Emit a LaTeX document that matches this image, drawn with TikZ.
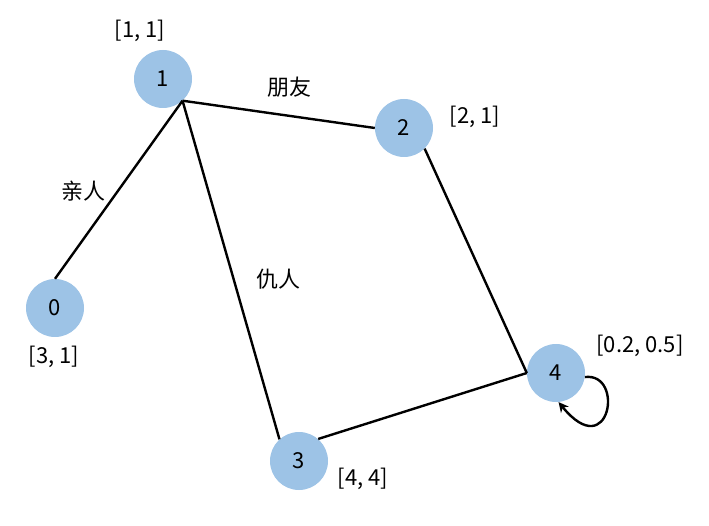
\documentclass[tikz,border=0pt]{standalone}
\usepackage{fontspec}
\setmainfont{Noto Sans CJK SC}
\usetikzlibrary{arrows.meta}
\definecolor{nodeblue}{HTML}{9DC3E6}
\begin{document}
\begin{tikzpicture}[x=1pt,y=-1pt,
  vert/.style={circle,fill=nodeblue,minimum size=58pt,inner sep=0pt,font=\fontsize{22}{26}\selectfont},
  lbl/.style={inner sep=0pt,font=\fontsize{22}{26}\selectfont},
  edge/.style={line width=2.4pt,black},
  loopedge/.style={line width=2.4pt,black,-{Stealth[length=10pt,width=10pt]}}]
\useasboundingbox (0,0) rectangle (709,526);
\node[vert] (n1) at (163,79) {1};
\node[vert] (n0) at (55,308) {0};
\node[vert] (n2) at (404,128) {2};
\node[vert] (n3) at (299,461) {3};
\node[vert] (n4) at (556,373) {4};
\draw[edge] (n1.-48) -- (n0.north);
\draw[edge] (n1.-48) -- (n3.132);
\draw[edge] (n1.-48) -- (n2.west);
\draw[edge] (n2.-45) -- (n4.west);
\draw[edge] (n3.49) -- (n4.west);
\draw[loopedge] (n4.-8) .. controls (625,372) and (610,465) .. (n4.-85);
\node[lbl] (l1) at (140,31) {[1, 1]};
\node[lbl] (e12) at (289,87) {朋友};
\node[lbl] (l2) at (475,117) {[2, 1]};
\node[lbl] (e10) at (83,191) {亲人};
\node[lbl] (e13) at (278,279) {仇人};
\node[lbl] (l0) at (54,357) {[3, 1]};
\node[lbl] (l4) at (640,346) {[0.2, 0.5]};
\node[lbl] (l3) at (363,479) {[4, 4]};
\end{tikzpicture}
\end{document}
